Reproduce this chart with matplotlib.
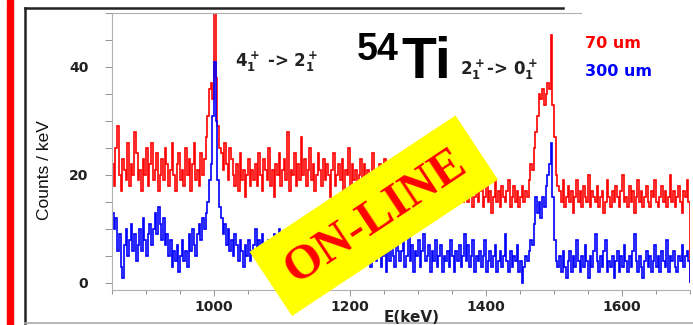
import numpy as np
import matplotlib
matplotlib.use("Agg")
import matplotlib.pyplot as plt
from matplotlib.patches import Rectangle
from matplotlib.lines import Line2D
from matplotlib.ticker import MultipleLocator

# spectrum binning (keV)
bin_start = 850
bin_width = 2.5

# 70 um detector (red)
counts_70um = [
    # 850 - 985
    22, 18, 25, 29, 20, 17, 23, 21, 19, 26, 18, 22, 20, 28, 24, 19, 21, 17, 23, 20,
    25, 18, 22, 26, 19, 21, 24, 17, 20, 23, 19, 25, 22, 18, 21, 26, 20, 17, 22, 24,
    19, 21, 18, 25, 20, 23, 17, 22, 26, 19, 21, 18, 24, 20, 23,
    # 4+ -> 2+ line
    27, 31, 36, 37, 34, 50, 38, 29, 25,
    # 1010 - 1057.5
    24, 21, 26, 22, 19, 25, 23, 20, 18, 22, 17, 24, 19, 21, 16, 20, 23, 18, 21, 19,
    # 1060 - 1272.5
    22, 18, 24, 20, 17, 23, 21, 19, 25, 18, 21, 16, 22, 20, 24, 18, 21, 23, 19, 28,
    17, 21, 20, 24, 18, 22, 19, 27, 20, 23, 18, 21, 25, 19, 22, 17, 20, 24, 21, 18,
    23, 19, 22, 20, 16, 21, 24, 18, 20, 22, 19, 23, 17, 21, 20, 25, 18, 22, 19, 21,
    17, 20, 23, 18, 22, 19, 21, 16, 20, 24, 18, 21, 19, 22, 17, 20, 23, 18, 21, 19,
    17, 20, 22, 18, 19, 21,
    # 1275 - 1367.5
    18, 20, 16, 19, 22, 17, 18, 15, 20, 17, 19, 21, 16, 18, 17, 20, 15, 19, 18, 21,
    16, 17, 19, 15, 18, 20, 17, 16, 19, 18, 15, 17, 20, 16, 18, 19, 15, 17,
    # 1370 - 1460
    18, 15, 17, 19, 14, 16, 18, 15, 17, 20, 14, 16, 18, 15, 17, 13, 16, 19, 15, 17,
    14, 18, 16, 15, 17, 19, 14, 16, 18, 15, 17, 14, 16, 18, 15, 17, 16,
    # 2+ -> 0+ line
    19, 22, 21, 25, 28, 31, 35, 34, 36, 33, 35, 37, 36, 46, 33, 27, 20, 18,
    # 1507.5 - 1697.5
    17, 15, 19, 14, 16, 18, 15, 17, 13, 16, 19, 15, 17, 14, 18, 16, 15, 20, 14, 17,
    16, 15, 18, 14, 16, 17, 13, 15, 19, 16, 14, 17, 15, 18, 16, 14, 17, 20, 15, 16,
    14, 18, 15, 17, 13, 16, 19, 15, 17, 14, 16, 18, 15, 14, 17, 16, 19, 15, 14, 16,
    18, 15, 17, 14, 16, 20, 15, 17, 14, 16, 18, 15, 13, 17, 16, 19, 15,
]

# 300 um detector (blue)
counts_300um = [
    # 850 - 985
    13, 10, 12, 6, 9, 3, 1, 7, 10, 5, 8, 11, 6, 9, 4, 7, 10, 6, 12, 8,
    5, 9, 11, 7, 10, 13, 9, 14, 11, 8, 12, 7, 9, 5, 8, 3, 6, 4, 7, 2,
    5, 8, 4, 6, 3, 9, 6, 10, 7, 5, 9, 11, 8, 12, 10,
    # 4+ -> 2+ line
    13, 15, 19, 22, 31, 41, 30, 19, 14,
    # 1010 - 1057.5
    12, 9, 11, 7, 10, 6, 8, 5, 9, 7, 4, 8, 6, 3, 7, 5, 8, 4, 6, 7,
    # 1060 - 1272.5
    10, 6, 8, 4, 9, 5, 7, 3, 8, 6, 4, 9, 5, 7, 10, 5, 6, 3, 8, 5,
    7, 4, 9, 6, 3, 8, 5, 7, 11, 6, 4, 7, 5, 9, 3, 6, 8, 4, 7, 5,
    2, 6, 9, 5, 7, 4, 8, 3, 6, 5, 9, 4, 7, 6, 3, 8, 5, 7, 4, 10,
    6, 3, 7, 5, 8, 4, 6, 9, 3, 5, 7, 4, 6, 8, 3, 5, 7, 2, 6, 4,
    8, 5, 3, 7, 6, 4,
    # 1275 - 1367.5
    6, 9, 3, 5, 10, 4, 7, 2, 6, 5, 8, 3, 6, 9, 4, 5, 7, 2, 6, 4,
    8, 3, 5, 7, 2, 5, 4, 6, 3, 8, 5, 2, 6, 4, 7, 3, 5, 9,
    # 1370 - 1460
    4, 7, 3, 5, 8, 2, 5, 4, 6, 3, 5, 8, 2, 4, 6, 3, 5, 7, 2, 4,
    6, 3, 5, 9, 4, 2, 6, 3, 5, 4, 7, 2, 4, 0, 3, 5, 4,
    # 2+ -> 0+ line
    6, 8, 7, 11, 16, 13, 15, 12, 16, 14, 18, 20, 22, 26, 16, 8, 4, 3,
    # 1507.5 - 1697.5
    5, 2, 6, 3, 1, 4, 6, 2, 5, 3, 8, 4, 2, 5, 3, 7, 4, 1, 5, 3,
    6, 9, 4, 2, 5, 3, 6, 8, 2, 4, 3, 5, 1, 4, 6, 2, 5, 3, 7, 4,
    2, 5, 3, 6, 9, 4, 2, 5, 3, 1, 4, 6, 3, 5, 2, 4, 7, 3, 5, 2,
    6, 4, 3, 8, 2, 5, 4, 6, 3, 2, 5, 4, 7, 3, 5, 6, 4,
]

x_ticks = [1000, 1200, 1400, 1600]
y_ticks = [0, 20, 40]

edges_r = bin_start + bin_width * np.arange(len(counts_70um) + 1)
edges_b = bin_start + bin_width * np.arange(len(counts_300um) + 1)

W, H = 693, 325
fig = plt.figure(figsize=(W / 100, H / 100), dpi=100)
fig.patch.set_facecolor("white")


def fx(px):
    return px / W


def fy(py):
    return 1 - py / H


ax = fig.add_axes([fx(112), fy(290), fx(690) - fx(112), fy(13) - fy(290)])
ax.stairs(counts_70um, edges_r, color="#ff0000", lw=1.2)
ax.stairs(counts_300um, edges_b, color="#0000ff", lw=1.2)

ax.set_xlim(850, 1700)
ax.set_ylim(-1.3, 50)
ax.set_xticks(x_ticks)
ax.set_yticks(y_ticks)
ax.xaxis.set_minor_locator(MultipleLocator(50))
ax.yaxis.set_minor_locator(MultipleLocator(5))
for s in ["left", "bottom", "top"]:
    ax.spines[s].set_color("#b0b0b0")
    ax.spines[s].set_linewidth(0.8)
ax.spines["right"].set_visible(False)
ax.spines["top"].set_bounds(850, 1540)
ax.tick_params(axis="both", which="both", colors="#909090", width=0.7)
ax.tick_params(axis="x", which="major", length=4, pad=3, labelcolor="#222222")
ax.tick_params(axis="x", which="minor", length=3)
ax.tick_params(axis="y", which="major", length=5, pad=12, labelcolor="#222222")
ax.tick_params(axis="y", which="minor", length=5)
for lab in ax.get_xticklabels() + ax.get_yticklabels():
    lab.set_fontweight("bold")
    lab.set_fontsize(10)

# slide decorations
fig.add_artist(Rectangle((7, 0), 6, H, transform=None, color="#ff0000", zorder=5))
fig.add_artist(Line2D([fx(25), fx(25)], [fy(8), fy(323)], color="#222222", lw=1.8))
fig.add_artist(Line2D([fx(25), fx(563)], [fy(8), fy(8)], color="#222222", lw=1.8))
fig.add_artist(Line2D([fx(25), fx(693)], [fy(323), fy(323)], color="#aaaaaa", lw=1.2))

# labels
fig.text(fx(412), fy(317), "E(keV)", ha="center", va="center",
         fontsize=11, fontweight="bold", color="#222222")
fig.text(fx(45), fy(170), "Counts / keV", ha="center", va="center", rotation=90,
         fontsize=12.5, family=["Liberation Sans Narrow", "Liberation Sans"], color="#111111")

plt.rcParams["mathtext.default"] = "bf"
fig.text(fx(235), fy(62), r"$4^+_1$ -> $2^+_1$", ha="left", va="center",
         fontsize=12, fontweight="bold", color="#222222")
fig.text(fx(460), fy(70), r"$2^+_1$-> $0^+_1$", ha="left", va="center",
         fontsize=12, fontweight="bold", color="#222222")
fig.text(fx(357), fy(60), "54", ha="left", va="baseline", fontsize=27,
         fontweight="bold", family="Liberation Sans", color="black")
fig.text(fx(401), fy(78), "Ti", ha="left", va="baseline", fontsize=41,
         fontweight="bold", family="Liberation Sans", color="black")
fig.text(fx(585), fy(43), "70 um", ha="left", va="center",
         fontsize=11.5, fontweight="bold", color="#ff0000")
fig.text(fx(585), fy(72), "300 um", ha="left", va="center",
         fontsize=11.5, fontweight="bold", color="#0000ff")

# ON-LINE banner
fig.add_artist(Rectangle((292 / 100, (H - 316) / 100), 2.47, 0.77, angle=33.5,
                         transform=fig.dpi_scale_trans, facecolor="#ffff00",
                         edgecolor="none", zorder=6))
fig.text(fx(376), fy(217), "ON-LINE", ha="center", va="center", rotation=33.5,
         rotation_mode="anchor", fontsize=35, fontweight="bold",
         family="Liberation Serif", color="#ff0000", zorder=7)

fig.savefig("out.png", dpi=100)
